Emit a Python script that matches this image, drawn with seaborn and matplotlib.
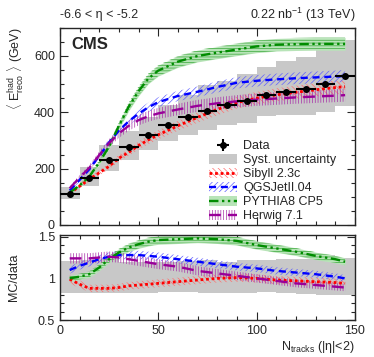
import numpy as np
import matplotlib
matplotlib.use("Agg")
import matplotlib.pyplot as plt
import seaborn as sns
from matplotlib.patches import Patch
from matplotlib.lines import Line2D
from matplotlib.ticker import MultipleLocator

# ==========================================
# data
# ==========================================
bin_edges = [0, 10, 20, 30, 40, 50, 60, 70, 80, 90, 100, 110, 120, 130, 140, 150]
data_x = [5, 15, 25, 35, 45, 55, 65, 75, 85, 95, 105, 115, 125, 135, 145]
data_y = [110, 168, 230, 278, 320, 354, 382, 406, 427, 440, 461, 472, 484, 502, 530]
data_stat = [3, 3, 3, 3, 3, 3, 3, 3, 3, 4, 4, 4, 5, 5, 6]
sys_up = [0.21, 0.22, 0.23, 0.20, 0.20, 0.20, 0.21, 0.22, 0.20, 0.22, 0.22, 0.23, 0.23, 0.28, 0.24]
sys_dn = [0.17, 0.18, 0.17, 0.17, 0.17, 0.16, 0.16, 0.17, 0.17, 0.18, 0.16, 0.17, 0.19, 0.20, 0.20]

mc_x = [5, 10, 15, 20, 25, 30, 35, 40, 45, 50, 60, 70, 80, 90, 100, 110, 120, 130, 140, 145]
sibyll = [112, 137, 162, 185, 208, 237, 258, 282, 302, 320, 352, 382, 410, 435, 450, 462, 471, 480, 488, 491]
qgsjet = [122, 160, 198, 245, 292, 335, 368, 395, 418, 436, 458, 473, 490, 505, 512, 517, 521, 524, 527, 529]
pythia = [115, 140, 172, 222, 278, 352, 420, 475, 520, 548, 580, 600, 612, 623, 634, 640, 642, 643, 643, 643]
herwig = [130, 168, 203, 248, 290, 325, 352, 372, 386, 396, 410, 423, 432, 439, 445, 449, 453, 456, 459, 461]

sibyll_ratio = [0.99, 0.93, 0.88, 0.88, 0.88, 0.89, 0.91, 0.92, 0.93, 0.94, 0.96, 0.98, 1.00, 1.01, 1.00, 0.98, 0.97, 0.96, 0.95, 0.94]
qgsjet_ratio = [1.10, 1.15, 1.19, 1.23, 1.26, 1.28, 1.28, 1.28, 1.27, 1.26, 1.23, 1.20, 1.17, 1.14, 1.12, 1.09, 1.07, 1.05, 1.02, 1.00]
pythia_ratio = [1.00, 1.02, 1.05, 1.13, 1.23, 1.31, 1.37, 1.41, 1.44, 1.46, 1.47, 1.48, 1.47, 1.45, 1.40, 1.36, 1.32, 1.27, 1.23, 1.20]
herwig_ratio = [1.24, 1.24, 1.24, 1.25, 1.26, 1.25, 1.23, 1.21, 1.19, 1.17, 1.14, 1.09, 1.06, 1.03, 1.00, 0.97, 0.94, 0.92, 0.90, 0.89]

# relative band half widths of the generators
sibyll_err = 0.05
qgsjet_err = 0.04
pythia_err = 0.035
herwig_err = 0.05

# ==========================================
# style
# ==========================================
sns.set_style("ticks")
plt.rcParams['font.family'] = ['Liberation Sans', 'DejaVu Sans']
plt.rcParams['font.size'] = 9
plt.rcParams['mathtext.fontset'] = 'custom'
plt.rcParams['mathtext.rm'] = 'Liberation Sans'
plt.rcParams['mathtext.it'] = 'Liberation Sans:italic'
plt.rcParams['hatch.linewidth'] = 0.5
plt.rcParams['axes.linewidth'] = 1.0

# name, values, ratio, band, line colour, hatch colour, hatch, line style, width, fill
models = [
    ('Sibyll 2.3c', sibyll, sibyll_ratio, sibyll_err, '#ff0000', '#ff7070', '\\' * 6,
     (0, (1, 1)), 2.0, None),
    ('QGSJetII.04', qgsjet, qgsjet_ratio, qgsjet_err, '#0000ff', '#6060ff', '/' * 6,
     (0, (3, 2)), 1.7, None),
    ('PYTHIA8 CP5', pythia, pythia_ratio, pythia_err, '#008c00', '#3aa83a', '-' * 6,
     (0, (4, 1.5, 1, 1.5, 1, 1.5)), 1.7, '#b8e4b8'),
    ('Herwig 7.1', herwig, herwig_ratio, herwig_err, '#990099', '#a830a8', '|' * 6,
     (0, (5, 3)), 1.7, None),
]

fig = plt.figure(figsize=(3.74, 3.57), dpi=100)
ax1 = fig.add_axes([0.160, 0.370, 0.789, 0.552])
ax2 = fig.add_axes([0.160, 0.1036, 0.789, 0.238])

gray = '#c8c8c8'
dy = np.array(data_y, dtype=float)
hi = dy * (1 + np.array(sys_up))
lo = dy * (1 - np.array(sys_dn))
ax1.fill_between(bin_edges, list(lo) + [lo[-1]], list(hi) + [hi[-1]], step='post',
                 color=gray, linewidth=0, zorder=1)
r_hi = 1 + np.array(sys_up)
r_lo = 1 - np.array(sys_dn)
ax2.fill_between(bin_edges, list(r_lo) + [r_lo[-1]], list(r_hi) + [r_hi[-1]], step='post',
                 color=gray, linewidth=0, zorder=1)

handles = []
for name, vals, ratio, err, col, hcol, hatch, ls, lw, fill in models:
    v = np.array(vals, dtype=float)
    r = np.array(ratio, dtype=float)
    for ax, y in ((ax1, v), (ax2, r)):
        if fill is not None:
            ax.fill_between(mc_x, y * (1 - err), y * (1 + err), color=fill,
                            linewidth=0, zorder=2)
        ax.fill_between(mc_x, y * (1 - err), y * (1 + err), facecolor='none',
                        edgecolor=hcol, hatch=hatch, linewidth=0, zorder=2)
        sns.lineplot(x=mc_x, y=y, ax=ax, color=col, linestyle=ls, linewidth=lw, zorder=3)
    band = Patch(facecolor=fill if fill is not None else 'none', edgecolor=hcol,
                 hatch=hatch if fill is None else None, linewidth=0)
    line = Line2D([], [], color=col, linestyle=ls, linewidth=lw)
    handles.append(((band, line), name))

data_h = ax1.errorbar(data_x, data_y, xerr=5, yerr=data_stat, fmt='o', color='black',
                      markersize=4, elinewidth=1.5, capsize=0, zorder=5)

leg_handles = [data_h, Patch(facecolor=gray, linewidth=0)] + [h for h, _ in handles]
leg_labels = ['Data', 'Syst. uncertainty'] + [n for _, n in handles]
ax1.legend(leg_handles, leg_labels, loc='upper left', bbox_to_anchor=(0.49, 0.455),
           frameon=False, fontsize=9, handlelength=2.2, handleheight=0.8,
           labelspacing=0.15, handletextpad=0.5, borderaxespad=0)

# ==========================================
# axes
# ==========================================
ax1.set_xlim(0, 150)
ax1.set_ylim(0, 700)
ax2.set_xlim(0, 150)
ax2.set_ylim(0.5, 1.52)

for ax in (ax1, ax2):
    ax.xaxis.set_major_locator(MultipleLocator(50))
    ax.xaxis.set_minor_locator(MultipleLocator(10))
    ax.tick_params(which='both', direction='in', top=True, right=True, labelsize=9)
    ax.tick_params(which='major', length=6, width=0.8)
    ax.tick_params(which='minor', length=3, width=0.8)
    ax.set_xlabel('')
    ax.set_ylabel('')

ax1.yaxis.set_major_locator(MultipleLocator(200))
ax1.yaxis.set_minor_locator(MultipleLocator(50))
ax1.tick_params(labelbottom=False)
ax2.yaxis.set_minor_locator(MultipleLocator(0.1))
ax2.set_yticks([0.5, 1, 1.5])
ax2.set_yticklabels(['0.5', '1', '1.5'])

ax1.set_ylabel(r'$\langle$ E$^{\rm had}_{\rm reco}$ $\rangle$ (GeV)', loc='top', fontsize=9)
ax1.yaxis.set_label_coords(-0.115, 1.0)
ax2.set_ylabel('MC/data', fontsize=9)
ax2.yaxis.set_label_coords(-0.135, 0.5)
ax2.set_xlabel(r'N$_{\rm tracks}$ (|η|<2)', loc='right', fontsize=9)
ax2.xaxis.set_label_coords(1.0, -0.22)

ax1.text(0.04, 0.955, 'CMS', transform=ax1.transAxes, fontsize=12, fontweight='bold',
         ha='left', va='top')
fig.text(60 / 374, 1 - 15 / 357, '-6.6 < η < -5.2', ha='left', va='center', fontsize=9)
fig.text(355 / 374, 1 - 15 / 357, r'0.22 nb$^{-1}$ (13 TeV)', ha='right', va='center', fontsize=9)

fig.savefig('out.png', dpi=100)
plt.close(fig)
